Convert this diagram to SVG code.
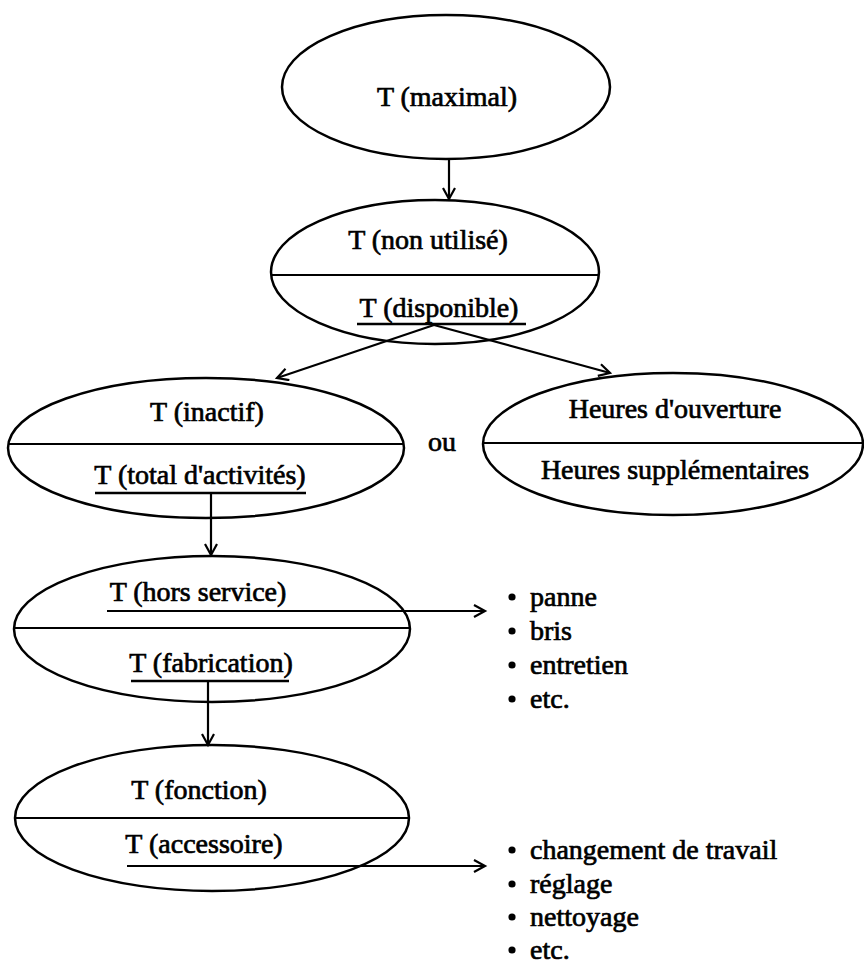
<svg xmlns="http://www.w3.org/2000/svg" width="864" height="966" viewBox="0 0 864 966">
<style>
.e{fill:none;stroke:#000;stroke-width:2.5}
.d{stroke:#000;stroke-width:2.2}
.t{font-family:"Liberation Serif","Times New Roman",serif;font-size:28px;fill:#000;stroke:#000;stroke-width:0.7}
.m{text-anchor:middle}
.c{fill:none;stroke:#000;stroke-width:2.2}
.u{stroke:#000;stroke-width:2.4}
</style>
<defs>
<marker id="ah" markerUnits="userSpaceOnUse" markerWidth="16" markerHeight="16" refX="12" refY="7" orient="auto">
<path d="M1,1 L12,7 L1,13" fill="none" stroke="#000" stroke-width="2.2"/>
</marker>
</defs>
<rect width="864" height="966" fill="#fff"/>
<g id="n-maximal">
<ellipse class="e" cx="446" cy="87" rx="164" ry="72"/>
<text class="t m" x="447" y="106">T (maximal)</text>
</g>
<g id="n-nonutilise">
<ellipse class="e" cx="435" cy="272" rx="164" ry="72"/>
<line class="d" x1="271" y1="275" x2="599" y2="275"/>
<text class="t m" x="428" y="249">T (non utilisé)</text>
<text class="t m" x="439" y="317">T (disponible)</text>
<line class="u" x1="357" y1="324" x2="526" y2="324"/>
</g>
<g id="n-inactif">
<ellipse class="e" cx="206" cy="448" rx="198" ry="70"/>
<line class="d" x1="8" y1="444" x2="404" y2="444"/>
<text class="t m" x="207" y="421">T (inactif)</text>
<text class="t m" x="200" y="484">T (total d'activités)</text>
<line class="u" x1="95" y1="493" x2="306" y2="493"/>
</g>
<g id="ou">
<text class="t m" x="442" y="451">ou</text>
</g>
<g id="n-heures">
<ellipse class="e" cx="673" cy="444" rx="190" ry="71"/>
<line class="d" x1="483" y1="443" x2="864" y2="443"/>
<text class="t m" x="675" y="418">Heures d'ouverture</text>
<text class="t m" x="675" y="479">Heures supplémentaires</text>
</g>
<g id="n-horsservice">
<ellipse class="e" cx="212" cy="629" rx="198" ry="73"/>
<line class="d" x1="14" y1="628" x2="410" y2="628"/>
<text class="t m" x="198" y="601">T (hors service)</text>
<text class="t m" x="211" y="672">T (fabrication)</text>
<line class="u" x1="131" y1="681" x2="289" y2="681"/>
</g>
<g id="n-fonction">
<ellipse class="e" cx="212" cy="818" rx="197" ry="73"/>
<line class="d" x1="15" y1="818" x2="409" y2="818"/>
<text class="t m" x="199" y="799">T (fonction)</text>
<text class="t m" x="204" y="853">T (accessoire)</text>
</g>
<g id="list-hors">
<circle cx="512" cy="597" r="3.6"/><text class="t" x="530" y="606">panne</text>
<circle cx="512" cy="631" r="3.6"/><text class="t" x="530" y="640">bris</text>
<circle cx="512" cy="665" r="3.6"/><text class="t" x="530" y="674">entretien</text>
<circle cx="512" cy="699" r="3.6"/><text class="t" x="530" y="708">etc.</text>
</g>
<g id="list-acc">
<circle cx="512" cy="850" r="3.6"/><text class="t" x="530" y="859">changement de travail</text>
<circle cx="512" cy="884" r="3.6"/><text class="t" x="530" y="893">réglage</text>
<circle cx="512" cy="917" r="3.6"/><text class="t" x="530" y="926">nettoyage</text>
<circle cx="512" cy="950" r="3.6"/><text class="t" x="530" y="959">etc.</text>
</g>
<g id="connectors">
<line class="c" x1="449" y1="159" x2="449" y2="199" marker-end="url(#ah)"/>
<line class="c" x1="434" y1="325" x2="277" y2="378" marker-end="url(#ah)"/>
<line class="c" x1="434" y1="325" x2="610" y2="373" marker-end="url(#ah)"/>
<line class="c" x1="211" y1="493" x2="211" y2="555" marker-end="url(#ah)"/>
<line class="c" x1="107" y1="611" x2="485" y2="611" marker-end="url(#ah)"/>
<line class="c" x1="208" y1="681" x2="208" y2="745" marker-end="url(#ah)"/>
<line class="c" x1="127" y1="866" x2="485" y2="866" marker-end="url(#ah)"/>
</g>
</svg>
